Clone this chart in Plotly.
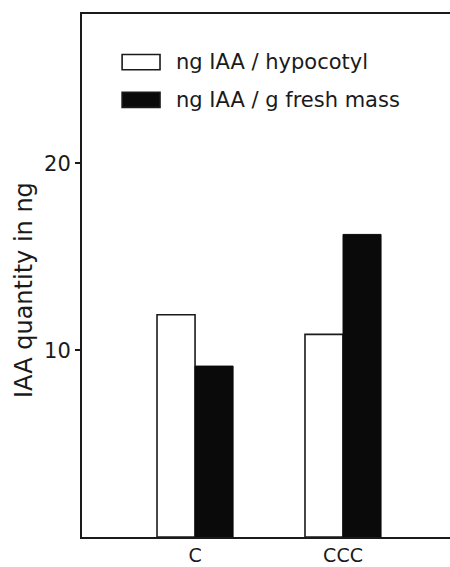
import plotly.graph_objects as go

categories = ["C", "CCC"]
per_hypocotyl = [11.9, 10.85]
per_fresh_mass = [9.15, 16.2]
series_names = ["ng IAA / hypocotyl", "ng IAA / g fresh mass"]
y_ticks = [10, 20]
y_title = "IAA quantity in ng"

FONT = "DejaVu Sans"
INK = "#1a1a1a"

fig = go.Figure()
fig.add_trace(go.Bar(x=categories, y=per_hypocotyl, name=series_names[0],
                     marker=dict(color="white", line=dict(color=INK, width=1.6)),
                     showlegend=False))
fig.add_trace(go.Bar(x=categories, y=per_fresh_mass, name=series_names[1],
                     marker=dict(color="#0a0a0a", line=dict(color="#0a0a0a", width=1)),
                     showlegend=False))

# custom legend (large swatches like the original)
legend_y = [0.908, 0.836]
swatch_fill = ["white", "#0a0a0a"]
for name, yy, fill in zip(series_names, legend_y, swatch_fill):
    fig.add_shape(type="rect", xref="paper", yref="paper",
                  x0=0.109, x1=0.212, y0=yy - 0.0145, y1=yy + 0.0145,
                  fillcolor=fill, line=dict(color=INK, width=1.6))
    fig.add_annotation(xref="paper", yref="paper", x=0.25, y=yy, text=name,
                       showarrow=False, xanchor="left", yanchor="middle",
                       font=dict(family=FONT, size=21, color=INK))

# y-axis title as annotation to match its position
fig.add_annotation(xref="paper", yref="paper", x=-0.158, y=0.472, text=y_title,
                   textangle=-90, showarrow=False, xanchor="center", yanchor="middle",
                   font=dict(family=FONT, size=24, color=INK))

fig.update_layout(
    width=450, height=567,
    margin=dict(l=82, r=0, t=14, b=30),
    paper_bgcolor="white", plot_bgcolor="white",
    barmode="group", bargap=0.486, bargroupgap=0,
    font=dict(family=FONT, size=18, color=INK),
    xaxis=dict(range=[-0.764, 1.723], showline=True, linecolor=INK, linewidth=2,
               mirror=True, ticks="", showgrid=False, zeroline=False,
               tickfont=dict(size=19)),
    yaxis=dict(range=[0, 28], showline=True, linecolor=INK, linewidth=2,
               ticks="outside", ticklen=5, tickwidth=1.5, tickcolor=INK,
               tickvals=y_ticks, showgrid=False, zeroline=False,
               tickfont=dict(size=21)),
)

fig.write_html("out.html")
